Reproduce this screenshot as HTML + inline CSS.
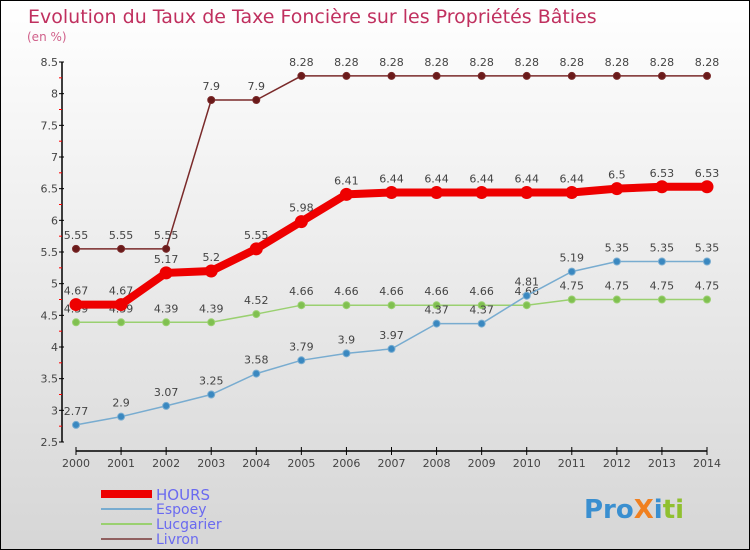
<!DOCTYPE html>
<html><head><meta charset="utf-8"><style>
body{margin:0}
#c{width:748px;height:548px;border:1px solid #000;background:linear-gradient(#ffffff,#d6d6d6);position:relative;font-family:"DejaVu Sans","Liberation Sans",sans-serif;overflow:hidden}
svg text{font-family:"DejaVu Sans","Liberation Sans",sans-serif}
</style></head><body>
<div id="c">
<svg id="s" width="748" height="548" xmlns="http://www.w3.org/2000/svg">
<text x="27" y="22" font-size="19" fill="#c0305f">Evolution du Taux de Taxe Foncière sur les Propriétés Bâties</text>
<text x="26" y="40" font-size="12" fill="#d0608a">(en %)</text>
<g id="axes"></g><g id="series"></g>
<g>
<rect x="100" y="489" width="51" height="8" fill="#e00"/>
<text x="155" y="499" font-size="15" fill="#6a6af0">HOURS</text>
<rect x="100" y="507" width="51" height="2" fill="#78acd0"/>
<text x="155" y="513" font-size="14" fill="#6a6af0">Espoey</text>
<rect x="100" y="522" width="51" height="2" fill="#9ad070"/>
<text x="155" y="528" font-size="14" fill="#6a6af0">Lucgarier</text>
<rect x="100" y="537" width="51" height="2" fill="#906060"/>
<text x="155" y="543" font-size="14" fill="#6a6af0">Livron</text>
</g>
<text x="583" y="517" font-size="26" font-weight="bold"><tspan fill="#3a8fd0">Pro</tspan><tspan fill="#f08020">X</tspan><tspan fill="#3a8fd0">i</tspan><tspan fill="#90c030">ti</tspan></text>
</svg></div>
<script>
const years=[2000,2001,2002,2003,2004,2005,2006,2007,2008,2009,2010,2011,2012,2013,2014];
const hours=[4.67,4.67,5.17,5.2,5.55,5.98,6.41,6.44,6.44,6.44,6.44,6.44,6.5,6.53,6.53];
const espoey=[2.77,2.9,3.07,3.25,3.58,3.79,3.9,3.97,4.37,4.37,4.81,5.19,5.35,5.35,5.35];
const lucgarier=[4.39,4.39,4.39,4.39,4.52,4.66,4.66,4.66,4.66,4.66,4.66,4.75,4.75,4.75,4.75];
const livron=[5.55,5.55,5.55,7.9,7.9,8.28,8.28,8.28,8.28,8.28,8.28,8.28,8.28,8.28,8.28];
const yTicks=[2.5,3,3.5,4,4.5,5,5.5,6,6.5,7,7.5,8,8.5];
const NS="http://www.w3.org/2000/svg";
const X=y=>75+(y-2000)*(706-75)/14;
const Y=v=>441-(v-2.5)*(380/6);
function mk(p,t,a){const e=document.createElementNS(NS,t);for(const k in a)e.setAttribute(k,a[k]);p.appendChild(e);return e;}
const ax=document.getElementById('axes');
mk(ax,'line',{x1:61,y1:61,x2:61,y2:441,stroke:'#000','stroke-width':1.5});
mk(ax,'line',{x1:75,y1:450,x2:706,y2:450,stroke:'#000','stroke-width':1.5});
yTicks.forEach(v=>{
 const isHalf=(v*2)%2===1;
 const t=mk(ax,'text',{x:57,y:Y(v)+4,'font-size':11,fill:'#444','text-anchor':'end'});
 t.textContent=String(v);
 
 
 mk(ax,'line',{x1:58,y1:Y(v),x2:63,y2:Y(v),stroke:'#000'});
 if(v<8.5) mk(ax,'line',{x1:58,y1:Y(v+0.25),x2:61,y2:Y(v+0.25),stroke:'#f00'});
});
years.forEach(y=>{
 mk(ax,'line',{x1:X(y),y1:446,x2:X(y),y2:454,stroke:'#000'});
 const t=mk(ax,'text',{x:X(y),y:466,'font-size':11,fill:'#444','text-anchor':'middle'});
 t.textContent=String(y);
 
 
});
const sg=document.getElementById('series');
function draw(name,vals,color,w,r,fill){
 const g=mk(sg,'g',{});
 
 
 mk(g,'polyline',{points:vals.map((v,i)=>X(years[i])+','+Y(v)).join(' '),fill:'none',stroke:color,'stroke-width':w});
 vals.forEach((v,i)=>{
  const c=mk(g,'circle',{cx:X(years[i]),cy:Y(v),r:r,fill:fill,stroke:color,'stroke-width':1});
  
  
  const t=mk(g,'text',{x:X(years[i]),y:Y(v)-10,'font-size':11,fill:'#444','text-anchor':'middle'});
  t.textContent=String(v);
  
  
 });
}
draw('livron',livron,'#7a2a2a',1.5,3.5,'#6a1a1a');
draw('lucgarier',lucgarier,'#9ad070',1.5,3.5,'#80c050');
draw('espoey',espoey,'#78acd0',1.5,3.5,'#3a88c0');
draw('hours',hours,'#ee0000',8,6,'#ee0000');
</script>
</body></html>
